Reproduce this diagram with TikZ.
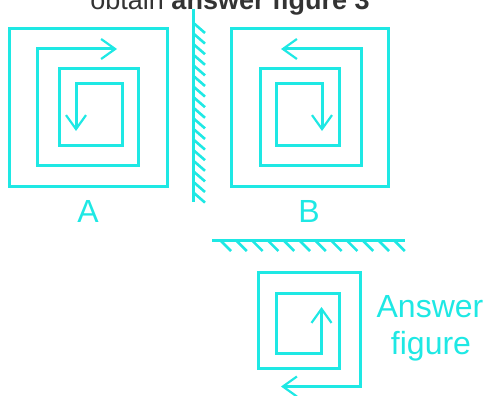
\documentclass[tikz,border=0pt]{standalone}
\usepackage{fontspec}
\setmainfont{Liberation Sans}
\usetikzlibrary{arrows.meta}
\definecolor{cy}{RGB}{30,232,228}
\definecolor{tgray}{RGB}{51,51,51}
\begin{document}
\begin{tikzpicture}[x=1pt,y=-1pt, line join=miter,
  fig/.style={draw=cy, line width=3pt},
  barb/.style={{Straight Barb[length=14pt,width=20pt,line width=2.2pt]}-{Straight Barb[length=14pt,width=20pt,line width=2.2pt]}},
  hatch/.style={draw=cy, line width=2.6pt},
  lbl/.style={text=cy, font=\fontsize{32}{37}\selectfont, inner sep=0pt, anchor=base}]
\useasboundingbox (0,0) rectangle (490,396);
\clip (0,0) rectangle (490,396);
% title (cut off at top)
\node[anchor=base, text=tgray, inner sep=0pt, font=\fontsize{27}{30}\selectfont] (title) at (230,10) {obtain \textbf{answer figure 3}};
% figure A
\draw[fig] (9.5,29) rectangle (167,186);
\draw[fig, barb] (76,131) -- (76,84) -- (122,84) -- (122,145) -- (59,145) -- (59,69) -- (138,69) -- (138,165) -- (37,165) -- (37,49) -- (117,49);
% figure B (mirror image)
\begin{scope}[xshift=398pt, xscale=-1]
\draw[fig] (9.5,29) rectangle (167,186);
\draw[fig, barb] (76,131) -- (76,84) -- (122,84) -- (122,145) -- (59,145) -- (59,69) -- (138,69) -- (138,165) -- (37,165) -- (37,49) -- (117,49);
\end{scope}
% vertical mirror
\draw[fig] (193.5,9) -- (193.5,202);
\foreach \i in {0,...,16} \draw[hatch] (193.5,23+10.6*\i) -- (205,33+10.6*\i);
% horizontal mirror
\draw[fig] (212,240.5) -- (405,240.5);
\foreach \i in {0,...,11} \draw[hatch] (221+15.8*\i,241) -- (231+15.8*\i,251);
% answer figure
\draw[fig, barb] (281,386.5) -- (360,386.5) -- (360,272.5) -- (258,272.5) -- (258,368) -- (339,368) -- (339,293) -- (276,293) -- (276,353) -- (321.5,353) -- (321.5,307);
% labels
\node[lbl] (la) at (88,222) {A};
\node[lbl] (lb) at (309,222) {B};
\node[lbl] (ans1) at (430,317) {Answer};
\node[lbl] (ans2) at (431,354) {figure};
\end{tikzpicture}
\end{document}
